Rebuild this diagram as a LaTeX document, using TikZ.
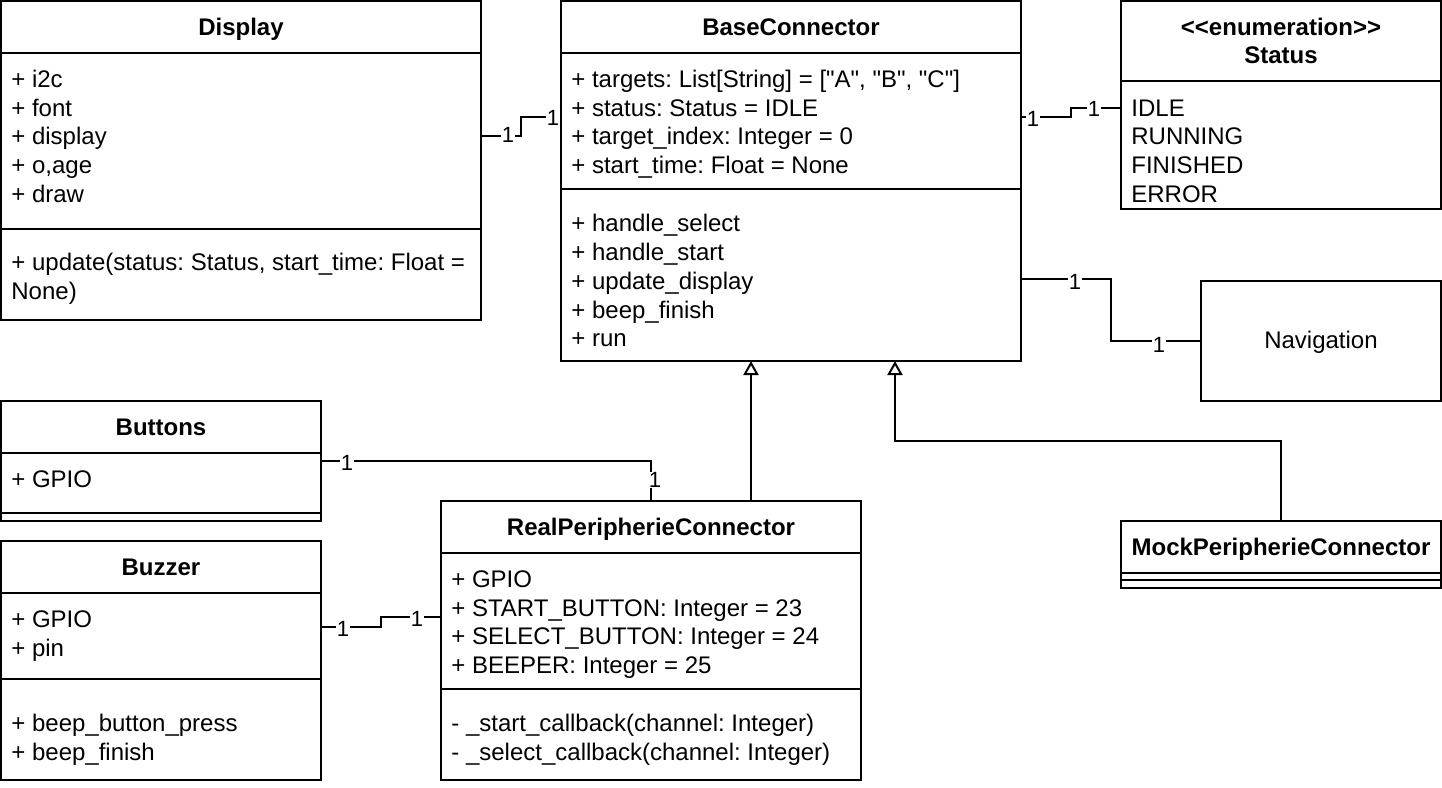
\documentclass[tikz,border=0pt]{standalone}
\usepackage{fontspec}
\newfontfamily\umlfont{Liberation Sans}
\usepackage{tikz}
\usetikzlibrary{arrows.meta}
\usetikzlibrary{positioning}
\usetikzlibrary{calc}
\frenchspacing

\tikzset{
  classbox/.style={draw, line width=1pt, outer sep=0pt, inner sep=0pt},
  member/.style={anchor=base west, inner sep=0pt, font=\umlfont\fontsize{12}{14.4}\selectfont},
  classname/.style={anchor=base, inner sep=0pt, font=\umlfont\bfseries\fontsize{12}{14.4}\selectfont},
  mult/.style={fill=white, inner sep=0.3pt, font=\umlfont\fontsize{11}{13}\selectfont},
  assoc/.style={line width=1pt},
  generalize/.style={line width=1pt, -{Triangle[open, width=7.5pt, length=7pt]}},
}
\newcommand{\compline}[2]{\draw[line width=1pt] ($(#1.north west)+(0,#2)$) -- ($(#1.north east)+(0,#2)$);}

\begin{document}
\begin{tikzpicture}[x=0.5pt, y=-0.5pt]
    \useasboundingbox (0,0) rectangle (1442,788);
    % class boxes
    \node[classbox, minimum width=240pt, minimum height=159.5pt] (display) at (241,160.5) {};
    \node[classbox, minimum width=230pt, minimum height=180pt] (base) at (791,181) {};
    \node[classbox, minimum width=160pt, minimum height=104pt] (status) at (1281,105) {};
    \node[classbox, minimum width=120pt, minimum height=60pt] (nav) at (1321,341) {};
    \node[classbox, minimum width=160pt, minimum height=60pt] (buttons) at (161,461) {};
    \node[classbox, minimum width=160pt, minimum height=119.5pt] (buzzer) at (161,660.5) {};
    \node[classbox, minimum width=210pt, minimum height=139.5pt] (real) at (651,640.5) {};
    \node[classbox, minimum width=160pt, minimum height=33.5pt] (mock) at (1281,554.5) {};
    % compartments
    \compline{display}{52} \compline{display}{228}
    \compline{base}{52} \compline{base}{188}
    \compline{status}{80}
    \compline{buttons}{52} \compline{buttons}{112}
    \compline{buzzer}{52} \compline{buzzer}{138}
    \compline{real}{52} \compline{real}{188}
    \compline{mock}{52} \compline{mock}{59}
    % names
    \node[classname] (display-n) at ($(display.north)+(0,34.5)$) {Display};
    \node[classname] (base-n) at ($(base.north)+(0,34.5)$) {BaseConnector};
    \node[classname] (status-s) at ($(status.north)+(0,34)$) {<{}<enumeration>{}>};
    \node[classname] (status-n) at ($(status.north)+(0,62.8)$) {Status};
    \node[classname, font=\umlfont\fontsize{12}{14.4}\selectfont] (nav-n) at ($(nav.center)+(0,7)$) {Navigation};
    \node[classname] (buttons-n) at ($(buttons.north)+(0,34.5)$) {Buttons};
    \node[classname] (buzzer-n) at ($(buzzer.north)+(0,34.5)$) {Buzzer};
    \node[classname] (real-n) at ($(real.north)+(0,34.5)$) {RealPeripherieConnector};
    \node[classname] (mock-n) at ($(mock.north)+(0,34.5)$) {MockPeripherieConnector};
    % members
    \foreach \txt [count=\i from 0] in {{+ i2c},{+ font},{+ display},{+ o,age},{+ draw}}
        \node[member] (display-a\i) at ($(display.north west)+(10,86.3+28.8*\i)$) {\txt};
    \foreach \txt [count=\i from 0] in {{+ update(status: Status, start\_time: Float =},{None)}}
        \node[member] (display-m\i) at ($(display.north west)+(10,269.7+28.8*\i)$) {\txt};
    \foreach \txt [count=\i from 0] in {{+ targets: List[String] = ["A", "B", "C"]},{+ status: Status = IDLE},{+ target\_index: Integer = 0},{+ start\_time: Float = None}}
        \node[member] (base-a\i) at ($(base.north west)+(10,86.3+28.8*\i)$) {\txt};
    \foreach \txt [count=\i from 0] in {{+ handle\_select},{+ handle\_start},{+ update\_display},{+ beep\_finish},{+ run}}
        \node[member] (base-m\i) at ($(base.north west)+(10,230.7+28.8*\i)$) {\txt};
    \foreach \txt [count=\i from 0] in {IDLE,RUNNING,FINISHED,ERROR}
        \node[member] (status-v\i) at ($(status.north west)+(10,115+28.8*\i)$) {\txt};
    \node[member] (buttons-a0) at ($(buttons.north west)+(10,86.3)$) {+ GPIO};
    \foreach \txt [count=\i from 0] in {{+ GPIO},{+ pin}}
        \node[member] (buzzer-a\i) at ($(buzzer.north west)+(10,86.3+28.8*\i)$) {\txt};
    \foreach \txt [count=\i from 0] in {{+ beep\_button\_press},{+ beep\_finish}}
        \node[member] (buzzer-m\i) at ($(buzzer.north west)+(10,190.7+28.8*\i)$) {\txt};
    \foreach \txt [count=\i from 0] in {{+ GPIO},{+ START\_BUTTON: Integer = 23},{+ SELECT\_BUTTON: Integer = 24},{+ BEEPER: Integer = 25}}
        \node[member] (real-a\i) at ($(real.north west)+(10,86.3+28.8*\i)$) {\txt};
    \foreach \txt [count=\i from 0] in {{- \_start\_callback(channel: Integer)},{- \_select\_callback(channel: Integer)}}
        \node[member] (real-m\i) at ($(real.north west)+(10,230.7+28.8*\i)$) {\txt};
    % associations
    \draw[assoc] ($(display.north east)+(0,135)$) -- ++(40,0) |- ($(base.north west)+(0,116)$);
    \draw[assoc] ($(base.north east)+(0,116)$) -- ++(50,0) |- ($(status.north west)+(0,107)$);
    \draw[assoc] ($(base.north east)+(0,278)$) -- ++(90,0) |- (nav.west);
    \draw[assoc] ($(buttons.north east)+(0,60)$) -| (real.north);
    \draw[assoc] ($(buzzer.north east)+(0,86)$) -- ++(60,0) |- ($(real.north west)+(0,116)$);
    % generalizations
    \draw[generalize] ($(real.north)+(100,0)$) -- ($(base.south west)+(190,0)$);
    \draw[generalize] (mock.north) |- ($(base.south west)+(334,80)$) -- ($(base.south west)+(334,0)$);
    % multiplicities
    \node[mult] (m1a) at (508,135) {1};
    \node[mult] (m1b) at (553,118) {1};
    \node[mult] (m2a) at (1033,119) {1};
    \node[mult] (m2b) at (1094,109) {1};
    \node[mult] (m3a) at (1075,282) {1};
    \node[mult] (m3b) at (1159,345) {1};
    \node[mult] (m4a) at (347,463) {1};
    \node[mult] (m4b) at (655,480) {1};
    \node[mult] (m5a) at (343,629) {1};
    \node[mult] (m5b) at (417,619) {1};
\end{tikzpicture}
\end{document}
